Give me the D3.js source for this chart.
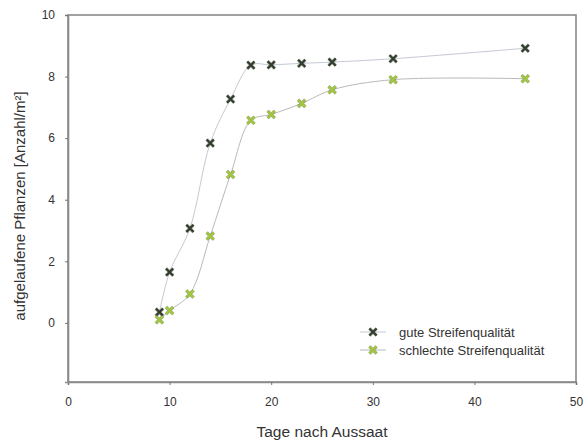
<!DOCTYPE html>
<html>
<head>
<meta charset="utf-8">
<script src="https://cdn.jsdelivr.net/npm/d3@7"></script>
<style>
  body { margin: 0; background: #fff; }
  svg text { font-family: "Liberation Sans", Arial, sans-serif; fill: #333; }
</style>
</head>
<body>
<script>
const days = [9, 10, 12, 14, 16, 18, 20, 23, 26, 32, 45];
const gute = [0.35, 1.65, 3.07, 5.84, 7.27, 8.37, 8.38, 8.43, 8.47, 8.58, 8.92];
const schlechte = [0.1, 0.4, 0.94, 2.82, 4.82, 6.58, 6.77, 7.13, 7.57, 7.9, 7.93];
const xTicks = [0, 10, 20, 30, 40, 50];
const yTicks = [0, 2, 4, 6, 8, 10];
const seriesNames = ["gute Streifenqualität", "schlechte Streifenqualität"];

const w = 588, h = 447;
const margin = { top: 15, right: 12, bottom: 65, left: 68 };

const svg = d3.select("body").append("svg")
  .attr("width", w)
  .attr("height", h);

const x = d3.scaleLinear().domain([0, 50]).range([margin.left, w - margin.right]);
const y = d3.scaleLinear().domain([-1.92, 10]).range([h - margin.bottom, margin.top]);

// rahmen
svg.append("rect")
  .attr("x", x(0)).attr("y", y(10))
  .attr("width", x(50) - x(0)).attr("height", y(-1.92) - y(10))
  .attr("fill", "none").attr("stroke", "#8a8a8a").attr("stroke-width", 1.6);

const xAxis = svg.append("g")
  .attr("transform", `translate(0,${y(-1.92)})`)
  .call(d3.axisBottom(x).tickValues(xTicks).tickSize(3).tickPadding(12).tickFormat(d3.format("d")));
const yAxis = svg.append("g")
  .attr("transform", `translate(${x(0)},0)`)
  .call(d3.axisLeft(y).tickValues(yTicks).tickSize(3).tickPadding(10).tickFormat(d3.format("d")));
[xAxis, yAxis].forEach(a => {
  a.select(".domain").attr("stroke", "#8a8a8a").attr("stroke-width", 1.6);
  a.selectAll(".tick line").attr("stroke", "#777");
  a.selectAll("text").attr("font-size", 12).attr("fill", "#333");
});

svg.append("text")
  .attr("x", (x(0) + x(50)) / 2).attr("y", 437)
  .attr("text-anchor", "middle").attr("font-size", 15.5)
  .text("Tage nach Aussaat");

svg.append("text")
  .attr("transform", `translate(25,206) rotate(-90)`)
  .attr("text-anchor", "middle").attr("font-size", 15)
  .text("aufgelaufene Pflanzen [Anzahl/m²]");

const series = [
  { name: seriesNames[0], values: gute, line: "#c5c9d3", fill: "#333d2e", edge: "#6a7560" },
  { name: seriesNames[1], values: schlechte, line: "#b9b9b9", fill: "#a3c63e", edge: "#5c7a2c" }
];

const line = d3.line()
  .x((d, i) => x(days[i]))
  .y(d => y(d))
  .curve(d3.curveCatmullRom.alpha(0.5));

function cross(g, cx, cy, s) {
  const r = 3.6;
  const d = `M${cx - r},${cy - r}L${cx + r},${cy + r}M${cx - r},${cy + r}L${cx + r},${cy - r}`;
  g.append("path").attr("d", d)
    .attr("stroke", s.edge).attr("stroke-width", 3.3).attr("stroke-linecap", "butt").attr("opacity", 0.6);
  g.append("path").attr("d", d)
    .attr("stroke", s.fill).attr("stroke-width", 2.1).attr("stroke-linecap", "butt");
}

series.forEach(s => {
  svg.append("path")
    .datum(s.values)
    .attr("d", line)
    .attr("fill", "none")
    .attr("stroke", s.line)
    .attr("stroke-width", 1);
});

series.forEach(s => {
  const g = svg.append("g");
  s.values.forEach((v, i) => cross(g, x(days[i]), y(v), s));
});

// legende
const legend = svg.append("g");
series.forEach((s, i) => {
  const ly = 332 + i * 18;
  legend.append("line")
    .attr("x1", 360).attr("x2", 386).attr("y1", ly).attr("y2", ly)
    .attr("stroke", s.line).attr("stroke-width", 1);
  cross(legend, 373, ly, s);
  legend.append("text")
    .attr("x", 399).attr("y", ly + 4.5)
    .attr("font-size", 13)
    .text(s.name);
});
</script>
</body>
</html>
